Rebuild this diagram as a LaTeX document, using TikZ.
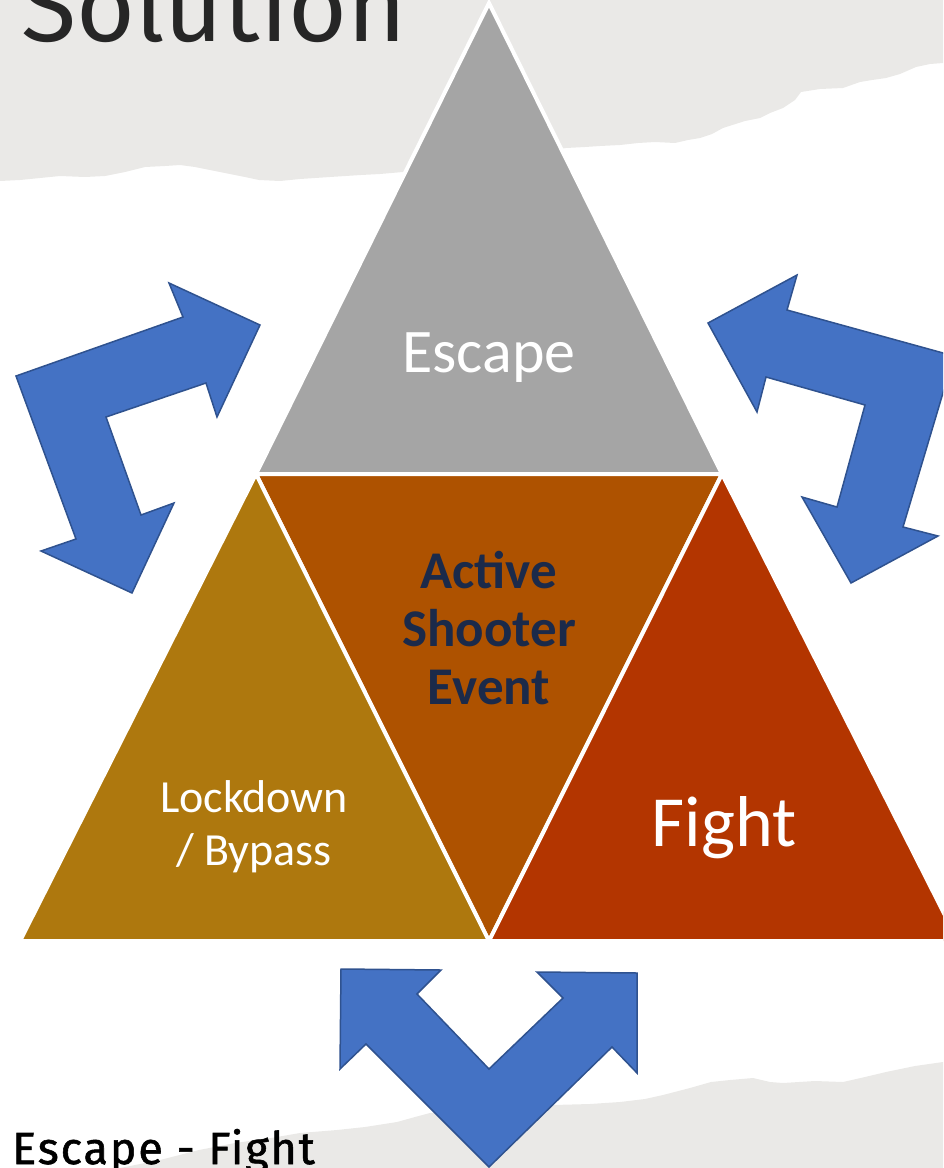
\documentclass[tikz,border=0pt]{standalone}
\usepackage{fontspec}
\setmainfont{Carlito}
\newfontfamily\firafont{Fira Sans}
\newfontfamily\firawide[LetterSpace=4,FakeBold=1.2]{Fira Sans}
\definecolor{bggray}{HTML}{EAE9E7}
\definecolor{escgray}{HTML}{A5A5A5}
\definecolor{centerbrown}{HTML}{AE5200}
\definecolor{lockgold}{HTML}{AE780E}
\definecolor{fightred}{HTML}{B33500}
\definecolor{arrowblue}{HTML}{4472C4}
\definecolor{arrowedge}{HTML}{2F528F}
\definecolor{navy}{HTML}{1B2A4A}
\definecolor{titlegray}{HTML}{262626}
\tikzset{
  tri/.style={draw=white, line width=4pt, line join=miter},
  bluearrow/.style={fill=arrowblue, draw=arrowedge, line width=1.5pt, line join=miter},
  paper/.style={fill=bggray, draw=none},
  whitetxt/.style={text=white, align=center, inner sep=0pt},
}
\begin{document}
\begin{tikzpicture}[x=1pt,y=-1pt]
\useasboundingbox (0,0) rectangle (943,1168);
\clip (0,0) rectangle (943,1168);
% torn paper bands
\fill[paper] (0,0) -- (943,0) -- (943,63) -- (930,64) -- (916,67) -- (900,74) -- (886,78) -- (872,80) -- (860,82) -- (843,88) -- (820,89) -- (801,92) -- (795,100) -- (783,108) -- (770,113) -- (760,118) -- (745,121) -- (723,128) -- (712,134) -- (700,138) -- (688,140) -- (675,143) -- (655,142) -- (638,143) -- (620,145) -- (600,146) -- (585,147) -- (566,148) -- (540,152) -- (500,158) -- (450,166) -- (403,172) -- (380,174) -- (361,175) -- (330,177) -- (300,179) -- (280,181) -- (259,180) -- (245,177) -- (230,174) -- (210,170) -- (195,167) -- (180,165) -- (165,166) -- (145,167) -- (125,172) -- (105,176) -- (85,177) -- (60,176) -- (40,178) -- (20,180) -- (0,181) -- cycle;
\fill[paper] (120,1168) -- (160,1160) -- (199,1150) -- (235,1143) -- (271,1138) -- (300,1133) -- (337,1130) -- (365,1127) -- (397,1122) -- (415,1117) -- (430,1113) -- (460,1110) -- (489,1108) -- (520,1106) -- (553,1105) -- (590,1104) -- (620,1102) -- (645,1099) -- (663,1095) -- (690,1088) -- (711,1082) -- (730,1080) -- (753,1078) -- (770,1082) -- (783,1083) -- (815,1081) -- (843,1082) -- (865,1077) -- (886,1072) -- (915,1066) -- (943,1062) -- (943,1168) -- cycle;
% title text
\node[anchor=base west, inner sep=0pt, text=titlegray, font={\firafont\fontsize{101}{101}\selectfont}] (title) at (21,41) {Solution};
% triangles
\coordinate (A) at (489,3);
\coordinate (B) at (256,474);
\coordinate (C) at (722,474);
\coordinate (D) at (20,941);
\coordinate (E) at (489,941);
\coordinate (F) at (958,941);
\filldraw[tri, fill=escgray] (A) -- (B) -- (C) -- cycle;
\filldraw[tri, fill=centerbrown] (B) -- (C) -- (E) -- cycle;
\filldraw[tri, fill=lockgold] (B) -- (D) -- (E) -- cycle;
\filldraw[tri, fill=fightred] (C) -- (E) -- (F) -- cycle;
% blue arrows
\filldraw[bluearrow] (16,376) -- (183,317) -- (169,283) -- (260,325) -- (217,417) -- (206,383) -- (106,417) -- (141,515) -- (174,503) -- (132,593) -- (41,551) -- (76,539) -- cycle;
\filldraw[bluearrow] (708,323) -- (797,275) -- (787,310) -- (954,356) -- (903,527) -- (938,536) -- (851,583) -- (802,497) -- (837,507) -- (865,405) -- (766,377) -- (757,412) -- cycle;
\filldraw[bluearrow] (341,969) -- (441,970) -- (417,994) -- (489,1069) -- (563,998) -- (537,972) -- (637,973) -- (637,1073) -- (612,1047) -- (489,1167) -- (366,1044) -- (340,1069) -- cycle;
% labels
\node[whitetxt, font={\fontsize{62}{62}\selectfont}] (escape) at (489,358) {Escape};
\node[inner sep=0pt, align=center, text=navy, font={\bfseries\fontsize{53}{58}\selectfont}] (center) at (489,628) {Active\\Shooter\\Event};
\node[whitetxt, font={\fontsize{46}{53}\selectfont}] (lock) at (254,827) {Lockdown\\/ Bypass};
\node[whitetxt, font={\fontsize{72}{72}\selectfont}] (fight) at (724,828) {Fight};
\node[anchor=base west, inner sep=0pt, text=black, font={\firawide\fontsize{45}{45}\selectfont}] (sub) at (12,1164) {Escape - Fight};
\end{tikzpicture}
\end{document}
